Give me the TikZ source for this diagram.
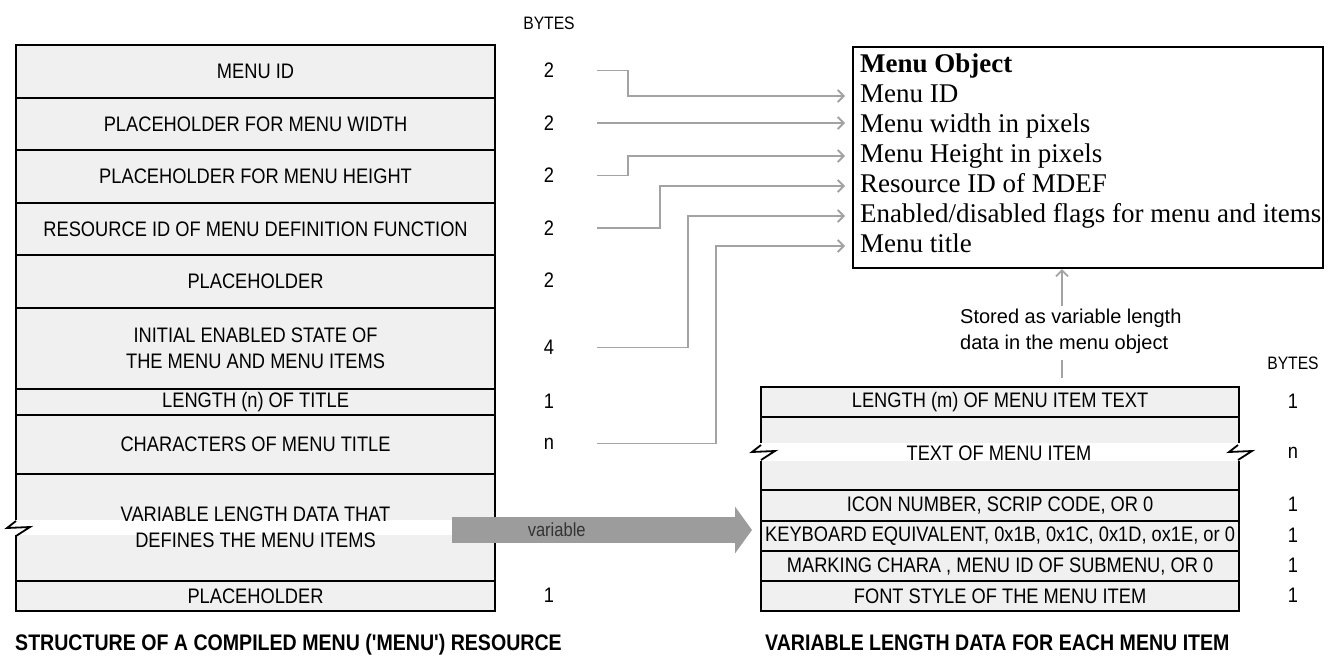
\documentclass[tikz,border=0pt]{standalone}
\usepackage{fontspec}
\setmainfont{Liberation Serif}
\newfontfamily\narrowsf[FakeStretch=0.87]{Liberation Sans}
\newfontfamily\plainsf{Liberation Sans}
\usetikzlibrary{arrows.meta,positioning,calc}

\definecolor{cellgray}{HTML}{F0F0F0}
\definecolor{linkgray}{HTML}{A3A3A3}
\definecolor{fatgray}{HTML}{9C9C9C}

\tikzset{
  cell/.style={draw,line width=2.1pt,fill=cellgray,anchor=north west,inner sep=0pt,align=center,
    font=\narrowsf\fontsize{21}{26}\selectfont},
  bytenum/.style={font=\narrowsf\fontsize{21}{22}\selectfont,minimum width=96pt,inner sep=0pt},
  objline/.style={anchor=west,inner sep=0pt,font=\fontsize{27}{30}\selectfont,text height=17pt,text depth=5pt},
  link/.style={draw=linkgray,line width=1.8pt,shorten >=7pt,-{Straight Barb[length=6pt,width=12pt]}},
  fatarrow/.style={draw=fatgray,line width=26pt,shorten >=8pt,-{Triangle[length=17pt,width=46pt]}},
  caption/.style={font=\narrowsf\bfseries\fontsize{22.5}{24}\selectfont,anchor=west,inner sep=0pt},
  zz/.pic={\draw[line width=1.8pt] (0,-7) -- (-9,0) -- (14,-1) -- (0,8);}
}

\begin{document}
\begin{tikzpicture}[x=1pt,y=-1pt]
  \useasboundingbox (0,0) rectangle (1335,661);

  % compiled MENU resource
  \node[font=\narrowsf\fontsize{18}{20}\selectfont] (bytesl) at (549,23) {BYTES};
  \foreach \i/\t/\b/\txt/\n in {1/44/97/MENU ID/2,
      2/97/149/PLACEHOLDER FOR MENU WIDTH/2,
      3/149/202/PLACEHOLDER FOR MENU HEIGHT/2,
      4/202/254/RESOURCE ID OF MENU DEFINITION FUNCTION/2,
      5/254/307/PLACEHOLDER/2,
      6/307/388/{INITIAL ENABLED STATE OF\\THE MENU AND MENU ITEMS}/4,
      7/388/414/LENGTH (n) OF TITLE/1,
      8/414/473/CHARACTERS OF MENU TITLE/n,
      10/580/610/PLACEHOLDER/1}{
    \node[cell,minimum width=479pt,minimum height={\b-\t}] (l\i) at (15,\t) {\txt};
    \node[bytenum] (b\i) at (549,{(\t+\b)/2}) {\n};
  }
  \node[cell,minimum width=479pt,minimum height=107pt] (l9) at (15,473) {};
  \fill[white] (12,520) rectangle (452,535);
  \pic at (16,528) {zz};
  \node[align=center,inner sep=0pt,font=\narrowsf\fontsize{21}{26}\selectfont] (l9txt) at (l9) {VARIABLE LENGTH DATA THAT\\DEFINES THE MENU ITEMS};
  \node[caption] (capl) at (15,645) {STRUCTURE OF A COMPILED MENU ('MENU') RESOURCE};

  % menu object
  \node[draw,line width=2.1pt,minimum width=470pt,minimum height=221pt,anchor=north west] (mobj) at (852,46) {};
  \node[objline,font=\bfseries\fontsize{27}{30}\selectfont] (mt0) at (860,66) {Menu Object};
  \foreach \i/\txt in {1/Menu ID,2/Menu width in pixels,3/Menu Height in pixels,
      4/Resource ID of MDEF,5/{Enabled/disabled flags for menu and items},6/Menu title}{
    \node[objline] (mt\i) at (860,{66+30*\i}) {\txt};
  }

  % item data
  \node[font=\narrowsf\fontsize{18}{20}\selectfont] (bytesr) at (1293,363) {BYTES};
  \foreach \i/\t/\b/\txt/\n in {1/386/416/LENGTH (m) OF MENU ITEM TEXT/1,
      3/489/520/{ICON NUMBER, SCRIP CODE, OR 0}/1,
      4/520/550/{KEYBOARD EQUIVALENT, 0x1B, 0x1C, 0x1D, ox1E, or 0}/1,
      5/550/580/{MARKING CHARA , MENU ID OF SUBMENU, OR 0}/1,
      6/580/610/FONT STYLE OF THE MENU ITEM/1}{
    \node[cell,minimum width=478pt,minimum height={\b-\t}] (r\i) at (760,\t) {\txt};
    \node[bytenum] (c\i) at (1293,{(\t+\b)/2}) {\n};
  }
  \node[cell,minimum width=478pt,minimum height=73pt] (r2) at (760,416) {};
  \fill[white] (757,443) rectangle (1241,461);
  \pic at (761,452) {zz};
  \pic at (1238,452) {zz};
  \node[inner sep=0pt,font=\narrowsf\fontsize{21}{26}\selectfont] (r2txt) at (999,453) {TEXT OF MENU ITEM};
  \node[bytenum] (c2) at (1293,453) {n};
  \node[caption] (capr) at (765,643) {VARIABLE LENGTH DATA FOR EACH MENU ITEM};

  % stored note
  \node[anchor=north west,align=left,inner sep=0pt,font=\plainsf\fontsize{20}{26}\selectfont] (note) at (960,309) {Stored as variable length\\data in the menu object};
  \coordinate (sv) at (1062,0);
  \draw[link,shorten >=0pt,shorten <=3pt] (note.north -| sv) -- (mobj.south -| sv);
  \draw[draw=linkgray,line width=1.8pt,shorten <=6pt,shorten >=8pt] (note.south -| sv) -- (r1.north -| sv);

  % connectors
  \draw[link] (b1.east) -- ++(31,0) |- (mobj.west |- mt1);
  \draw[link] (b2.east) -- (b2.east -| mobj.west);
  \draw[link] (b3.east) -- ++(31,0) |- (mobj.west |- mt3);
  \draw[link] (b4.east) -- ++(63,0) |- (mobj.west |- mt4);
  \draw[link] (b6.east) -- ++(91,0) |- (mobj.west |- mt5);
  \draw[link] (b8.east) -- ++(119,0) |- (mobj.west |- mt6);

  \coordinate (vs) at (452,530);
  \draw[fatarrow] (vs) -- (vs -| r4.west)
    node[pos=0.34,font=\narrowsf\fontsize{19}{20}\selectfont,text=black!80] (varlbl) {variable};
\end{tikzpicture}
\end{document}
